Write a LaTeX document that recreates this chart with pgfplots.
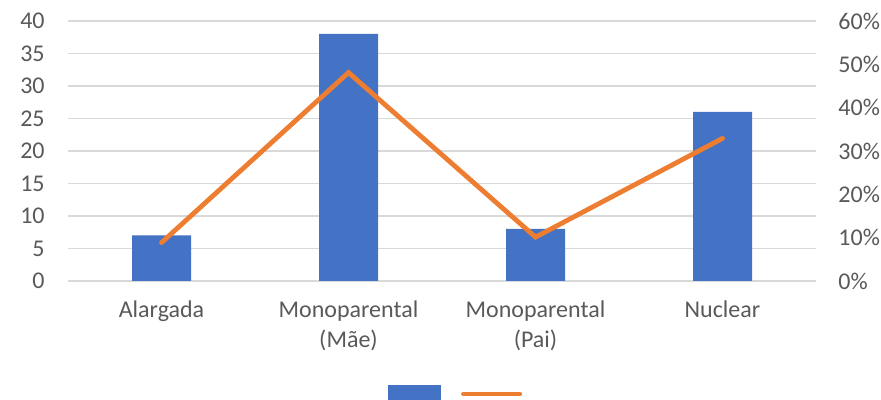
\documentclass[border=0pt]{standalone}
\usepackage{pgfplots}
\pgfplotsset{compat=1.18}
\usepackage{fontspec}
\setmainfont{Carlito}
\definecolor{barblue}{HTML}{4472C4}
\definecolor{lineorange}{HTML}{ED7D31}
\definecolor{gridgray}{HTML}{D9D9D9}
\definecolor{textgray}{HTML}{595959}

\begin{document}
\begin{tikzpicture}
\useasboundingbox (0,0) rectangle (440.5pt,200pt);
\pgfplotsset{
  base/.style={
    scale only axis, width=374pt, height=130pt,
    at={(34pt,59.5pt)}, anchor=south west,
    xmin=-0.5, xmax=3.5,
    axis line style={draw=none},
    major tick style={draw=none},
    tick label style={font=\fontsize{12}{15}\selectfont, text=textgray},
    /pgf/number format/assume math mode=true,
  },
}
% counts (left axis)
\begin{axis}[base,
    ymin=0, ymax=40, ytick={0,5,...,40},
    ymajorgrids, grid style={gridgray, line width=0.75pt},
    xtick={0,1,2,3},
    xticklabels={Alargada,{Monoparental\\(Mãe)},{Monoparental\\(Pai)},Nuclear},
    xticklabel style={align=center, anchor=north, inner sep=0pt, yshift=-9.5pt},
    yticklabel style={anchor=east, inner sep=0pt, xshift=-11.5pt},
]
  \addplot[ybar, bar width=29.5pt, fill=barblue, draw=none]
    coordinates {(0,7) (1,38) (2,8) (3,26)};
\end{axis}
% share (right axis)
\begin{axis}[base,
    ymin=0, ymax=60, ytick={0,10,...,60},
    yticklabels={0\%,10\%,20\%,30\%,40\%,50\%,60\%},
    yticklabel pos=right,
    yticklabel style={anchor=west, inner sep=0pt, xshift=11pt},
    xtick=\empty,
    legend columns=2,
    legend style={draw=none, fill=none, inner sep=0pt,
      at={(0.519,-0.4346)}, anchor=center,
      nodes={inner sep=0pt},
      /tikz/every even column/.append style={column sep=9pt}},
]
  \addlegendimage{legend image code/.code={\fill[barblue] (0pt,-4.5pt) rectangle (26pt,4.5pt);}}
  \addlegendentry{\hbox{}}
  \addplot[lineorange, line width=2.4pt, line cap=round, mark=none,
    legend image code/.code={\draw[lineorange, line width=2pt, line cap=round] (0pt,0pt) -- (28.5pt,0pt);}]
    coordinates {(0,8.86) (1,48.10) (2,10.13) (3,32.91)};
  \addlegendentry{\hbox{}}
\end{axis}
\end{tikzpicture}
\end{document}
